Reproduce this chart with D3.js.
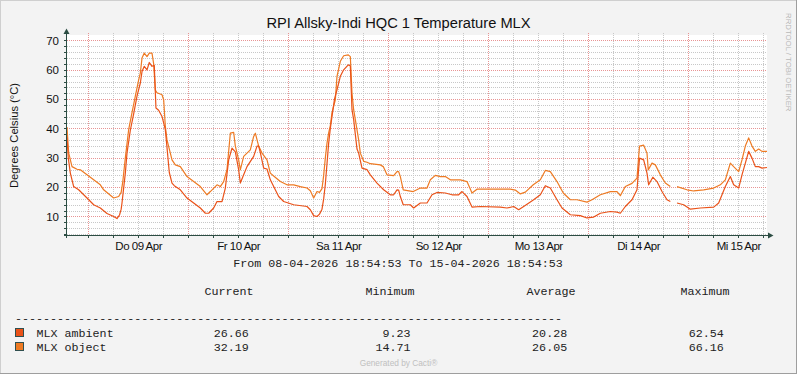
<!DOCTYPE html>
<html><head><meta charset="utf-8">
<script src="https://cdn.jsdelivr.net/npm/d3@7/dist/d3.min.js"></script>
<style>html,body{margin:0;padding:0;background:#F3F3F3;} svg{display:block;}</style>
</head><body>
<svg id="chart" width="797" height="374"></svg>
<script>
// ---------------- DATA ----------------
const chartTitle = "RPI Allsky-Indi HQC 1 Temperature MLX";
const yAxisTitle = "Degrees Celsius (°C)";
const periodText = "From 08-04-2026 18:54:53 To 15-04-2026 18:54:53";
const dayLabels = ["Do 09 Apr", "Fr 10 Apr", "Sa 11 Apr", "So 12 Apr", "Mo 13 Apr", "Di 14 Apr", "Mi 15 Apr"];
const yTickValues = [10, 20, 30, 40, 50, 60, 70];
const seriesNames = ["MLX ambient", "MLX object"];
const legendHeaders = ["Current", "Minimum", "Average", "Maximum"];
const ambientStats = ["26.66", "9.23", "20.28", "62.54"];
const objectStats = ["32.19", "14.71", "26.05", "66.16"];

// hours after 08-04-2026 18:54:53
const ambientHours = [0,0.3,0.8,1.6,2.8,4.8,6.4,8.0,9.6,11.2,12.0,12.6,13.0,13.2,14.0,14.4,15.2,16.0,16.8,17.6,18.0,18.55,19.2,19.75,20.4,20.95,21.35,22.0,22.8,23.6,24.1,24.55,25.2,25.75,27.2,28.8,30.4,32.0,33.2,34.0,35.2,36.0,37.2,38.0,38.8,39.6,40.4,41.2,41.6,42.4,43.2,44.8,45.6,46.0,46.4,47.2,48.0,48.8,49.6,50.8,52.0,54.4,57.6,58.4,59.2,60.0,60.6,61.2,61.6,62.0,62.4,62.8,63.2,63.6,64.2,64.8,65.6,66.4,67.5,68.0,68.4,68.8,69.2,69.6,70.0,70.8,72.0,72.8,74.4,76.0,77.6,78.4,79.2,79.6,80.0,80.7,82.4,83.2,84.8,86.4,87.6,88.8,90.8,92.4,94.0,94.8,96.0,97.2,99.2,104.0,105.6,107.2,108.4,109.6,112.0,113.6,114.8,116.0,117.6,118.8,120.8,123.2,124.8,126.4,128.0,130.4,132.0,132.8,134.0,135.6,136.8,137.4,138.4,139.2,139.6,140.6,141.6,142.8,144.0,144.8,145.6,146.4,148.0,149.6,152.0,155.2,156.4,157.2,158.0,159.2,160.0,161.2,162.0,163.6,164.4,165.2,166.0,166.8,168.0];
const ambientValues = [37,30,24.8,20.2,19.1,16.3,14.0,12.9,11.0,10.0,9.3,10.5,12.5,14.6,24.8,31.6,39.4,45,51,55.5,59.4,61.2,60,62.5,61.2,61.5,47,46.2,44.1,39.6,32,25,21.4,20.5,19.1,16.3,14.6,12.9,11.1,11.1,12.9,15.1,15.1,19.7,29.3,33.3,32,25.9,21.4,24.2,27.0,30.5,34,34,31.8,26.5,26.2,22.5,20.2,16.8,15.1,14.0,13.4,12.3,10.3,10.0,10.8,12.5,16,21,28,35,40,44.1,50,53.2,57.8,60.0,61.7,61.3,46.4,43,38,33,31.6,26.5,26,24.2,21.4,19.1,17.4,17.4,19.1,19.0,16.8,14.0,14.0,12.9,14.6,14.6,17.4,18.2,18.0,17.4,17.4,18.5,16.8,13.2,13.4,13.2,12.9,13.4,12.3,13.4,15.7,17.4,20.5,19.7,15.7,12.9,10.6,10.3,9.5,9.8,11.1,11.7,11.5,11.1,13.4,15.7,19.1,29.9,29.3,24.8,20.8,23.4,21.9,18.5,15.7,15.1,null,14.6,14.0,12.5,12.9,13.2,14.6,17.4,20.2,23.6,20.8,19.7,24.2,32.2,29.9,27.0,27.0,26.5,26.7];

const objectHours = [0,0.4,1.2,2.4,3.2,4.8,8.0,8.8,11.2,12.4,13.0,13.4,14.0,14.8,15.6,16.4,17.2,17.6,18.0,18.55,19.2,19.75,20.4,20.8,21.2,21.6,22.8,23.2,23.6,24.0,24.8,25.2,26.0,27.2,28.8,32.0,33.6,34.4,36.0,36.8,37.6,38.4,39.2,40.0,40.4,41.2,41.6,42.4,43.2,44.0,44.8,45.2,46.0,46.8,48.0,48.8,49.6,51.2,52.8,54.4,56.0,57.6,58.4,59.2,60.0,60.6,61.2,61.6,62.0,62.4,62.8,63.2,63.6,64.4,64.8,65.6,66.4,67.5,68.0,68.4,68.8,69.2,70.0,70.4,71.2,72.0,72.8,75.2,75.9,76.8,78.4,79.2,79.6,80.0,80.7,83.1,84.8,86.4,87.2,88.4,89.6,90.8,92.0,94.4,96.0,97.2,98.4,106.4,107.6,108.8,110.0,111.9,113.6,114.8,116.0,117.6,119.1,120.8,122.4,124.8,126.0,128.0,130.4,132.0,132.8,134.0,135.6,136.8,137.4,138.4,139.2,139.5,140.4,141.2,142.4,143.6,144.8,145.6,146.4,148.8,150.4,152.8,155.2,156.8,158.0,159.2,160.0,161.2,162.0,162.8,163.6,164.4,165.2,166.0,166.8,168.0];
const objectValues = [40.5,31.7,27.0,26.1,25.9,24.2,20.8,19.1,16.3,16.8,18.2,22,30,39.6,45.4,51.0,56.6,58.9,64,65.7,64.5,65.7,65.7,62,53.1,52.2,51.5,49.8,40.7,36.1,31.6,29.3,27.6,27.0,23.6,20.2,17.4,18.5,20.8,20.2,21.9,26,38.4,38.7,34.0,29.3,25.9,30.5,31.6,32.7,37.3,38.4,34,31.6,29.3,24.8,23.8,21.9,20.8,20.8,20.2,19.7,18.8,16.3,18.5,18.2,19.5,24,30,35,38.5,41,45.4,49.8,57.8,62.9,64.8,65.1,64.5,52.1,46.4,43.0,36.1,31.6,28.8,28.5,28.0,27.6,27.0,24.2,23.9,25.3,25.3,23.6,19.1,18.5,19.7,19.7,22.5,24.0,23.6,23.6,22.5,22.5,21.9,18.0,19.3,19.3,19.0,17.7,18.3,20.8,22.5,25.7,25.3,21.9,18.0,15.7,15.7,14.9,15.7,17.4,18.5,18.5,17.1,20.2,21.3,23.1,34.0,34.3,31.6,25.9,28.2,27.6,24.2,21.4,20.2,null,20.2,19.1,18.7,19.1,19.7,20.8,22.5,28.2,27.0,25.3,29.3,34,36.8,34,32.2,33.0,32.2,32.2];

// ---------------- DRAW ----------------
const W = 797, H = 374;
const startMs = Date.UTC(2026, 3, 8, 18, 54, 53);
const endMs = startMs + 7 * 24 * 3600e3;
const toDate = h => new Date(startMs + h * 3600e3);

const x = d3.scaleUtc().domain([new Date(startMs), new Date(endMs)]).range([67, 767]);
const y = d3.scaleLinear().domain([3.69, 71.87]).range([235, 35]);

const svg = d3.select("#chart");
const sans = "'Liberation Sans', Arial, sans-serif";
const mono = "'Liberation Mono', 'Courier New', monospace";

svg.append("rect").attr("width", W).attr("height", H).attr("fill", "#F3F3F3");
// border
svg.append("line").attr("x1", 0).attr("x2", W).attr("y1", 0.5).attr("y2", 0.5).attr("stroke", "#CFCFCF");
svg.append("line").attr("x1", 0.5).attr("x2", 0.5).attr("y1", 0).attr("y2", H).attr("stroke", "#CFCFCF");
svg.append("line").attr("x1", 0).attr("x2", W).attr("y1", H - 0.5).attr("y2", H - 0.5).attr("stroke", "#9E9E9E");
svg.append("line").attr("x1", W - 0.5).attr("x2", W - 0.5).attr("y1", 0).attr("y2", H).attr("stroke", "#9E9E9E");

// plot canvas
svg.append("rect").attr("x", 67).attr("y", 35).attr("width", 700).attr("height", 200).attr("fill", "#FFFFFF");

const grid = svg.append("g").attr("shape-rendering", "crispEdges");
const px = v => Math.round(v) + 0.5;
const minorT = d3.utcHour.every(6).range(new Date(startMs), new Date(endMs)).filter(d => d.getUTCHours() !== 0);
const majorT = d3.utcDay.range(new Date(startMs), new Date(endMs));
const minorV = d3.range(4, 72, 2).filter(v => v % 10 !== 0);

grid.selectAll(".mvx").data(minorT).join("line")
  .attr("x1", d => px(x(d))).attr("x2", d => px(x(d))).attr("y1", 33).attr("y2", 235)
  .attr("stroke", "#C8C8C8").attr("stroke-dasharray", "1,1");
grid.selectAll(".mhy").data(minorV).join("line")
  .attr("x1", 67).attr("x2", 767).attr("y1", d => px(y(d))).attr("y2", d => px(y(d)))
  .attr("stroke", "#C8C8C8").attr("stroke-dasharray", "1,1");
grid.selectAll(".Mvx").data(majorT).join("line")
  .attr("x1", d => px(x(d))).attr("x2", d => px(x(d))).attr("y1", 33).attr("y2", 235)
  .attr("stroke", "#E89494").attr("stroke-dasharray", "1,1");
grid.selectAll(".Mhy").data(yTickValues).join("line")
  .attr("x1", 67).attr("x2", 767).attr("y1", d => px(y(d))).attr("y2", d => px(y(d)))
  .attr("stroke", "#E89494").attr("stroke-dasharray", "1,1");

// series
const line = d3.line().defined(d => d.v !== null).x(d => x(d.t)).y(d => y(d.v));
const ambient = ambientHours.map((h, i) => ({ t: toDate(h), v: ambientValues[i] }));
const object = objectHours.map((h, i) => ({ t: toDate(h), v: objectValues[i] }));
const colors = ["#EA5219", "#EE7A23"];
svg.append("path").datum(object).attr("d", line).attr("fill", "none").attr("stroke", colors[1]).attr("stroke-width", 1.2).attr("stroke-linejoin", "round");
svg.append("path").datum(ambient).attr("d", line).attr("fill", "none").attr("stroke", colors[0]).attr("stroke-width", 1.2).attr("stroke-linejoin", "round");

// axes lines + ticks
const axisColor = "#2C4D43";
const ax = svg.append("g").attr("shape-rendering", "crispEdges");
ax.append("line").attr("x1", 66.5).attr("x2", 66.5).attr("y1", 32).attr("y2", 238).attr("stroke", axisColor);
ax.append("line").attr("x1", 64).attr("x2", 770).attr("y1", 235.5).attr("y2", 235.5).attr("stroke", axisColor);
ax.selectAll(".ty").data(minorV.concat(yTickValues)).join("line")
  .attr("x1", 64).attr("x2", 66).attr("y1", d => px(y(d))).attr("y2", d => px(y(d))).attr("stroke", axisColor);
ax.selectAll(".tx").data(minorT.concat(majorT)).join("line")
  .attr("x1", d => px(x(d))).attr("x2", d => px(x(d))).attr("y1", 236).attr("y2", 238).attr("stroke", axisColor);
svg.append("path").attr("d", "M63.5,34 L66.5,28.5 L69.5,34 Z").attr("fill", axisColor);
svg.append("path").attr("d", "M768,232.5 L773.5,235.5 L768,238.5 Z").attr("fill", axisColor);

// tick labels through d3 axes
const yAxis = svg.append("g").attr("transform", "translate(67,0)")
  .call(d3.axisLeft(y).tickValues(yTickValues).tickSize(0).tickPadding(8).tickFormat(d3.format("d")));
yAxis.select(".domain").remove();
yAxis.selectAll("text").attr("font-family", sans).attr("font-size", "11.5px").attr("fill", "#111");

const noonTicks = majorT.map(d => d3.utcHour.offset(d, 12));
const xAxis = svg.append("g").attr("transform", "translate(0,235)")
  .call(d3.axisBottom(x).tickValues(noonTicks).tickSize(0).tickFormat((d, i) => dayLabels[i]));
xAxis.select(".domain").remove();
xAxis.selectAll("text").attr("y", 15).attr("dy", null).attr("font-family", sans)
  .attr("font-size", "11.5px").attr("letter-spacing", "-0.5px").attr("fill", "#111");

// titles
svg.append("text").attr("x", 398.5).attr("y", 27.5).attr("text-anchor", "middle")
  .attr("font-family", sans).attr("font-size", "14.7px").attr("fill", "#111").text(chartTitle);
svg.append("text").attr("transform", "translate(17.5,135.5) rotate(-90)").attr("text-anchor", "middle")
  .attr("font-family", sans).attr("font-size", "11.2px").attr("fill", "#111").text(yAxisTitle);
svg.append("text").attr("transform", "translate(786,13) rotate(90)")
  .attr("font-family", sans).attr("font-size", "7.8px").attr("fill", "#B8B8B8").text("RRDTOOL / TOBI OETIKER");

// period + legend
const monoText = (xp, yp, s, anchor) => svg.append("text").attr("x", xp).attr("y", yp)
  .attr("text-anchor", anchor || "start").attr("font-family", mono).attr("font-size", "11.7px")
  .attr("fill", "#222").attr("xml:space", "preserve").text(s);
monoText(398, 267, periodText, "middle");
const headerX = [204.5, 365.5, 526.5, 680.5];
legendHeaders.forEach((h, i) => monoText(headerX[i], 295, h));
monoText(15, 322, "-".repeat(78));
const valueX = [248.8, 410.5, 567.2, 723.8];
const rows = [{ name: seriesNames[0], stats: ambientStats, c: colors[0], yb: 336.5 },
              { name: seriesNames[1], stats: objectStats, c: colors[1], yb: 350.5 }];
rows.forEach(r => {
  svg.append("rect").attr("x", 15.5).attr("y", r.yb - 8).attr("width", 8).attr("height", 8)
    .attr("fill", r.c).attr("stroke", "#2F4F4F").attr("stroke-width", 1);
  monoText(36.5, r.yb, r.name);
  r.stats.forEach((s, i) => monoText(valueX[i], r.yb, s, "end"));
});

svg.append("text").attr("x", 398.5).attr("y", 366).attr("text-anchor", "middle")
  .attr("font-family", sans).attr("font-size", "8.3px").attr("fill", "#C0C0C0").text("Generated by Cacti®");
</script>
</body></html>
